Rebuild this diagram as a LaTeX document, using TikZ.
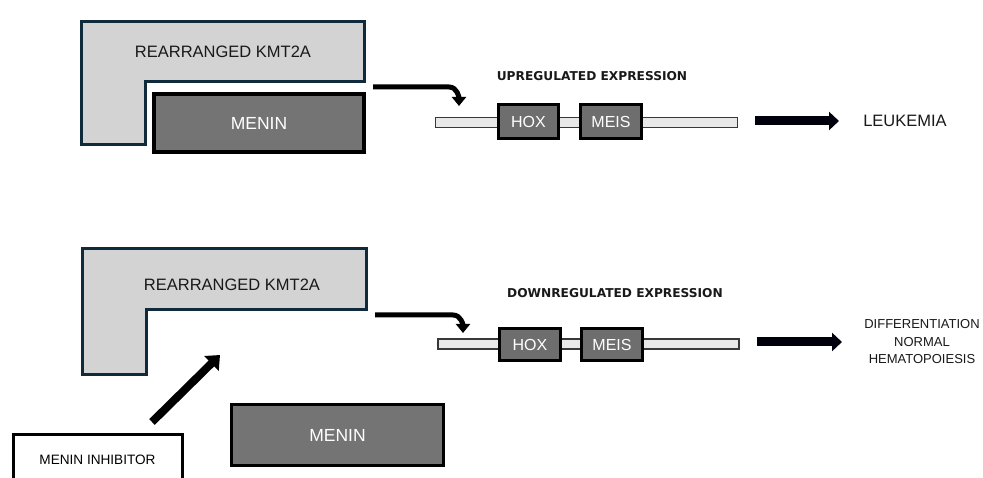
\documentclass[tikz,border=0pt]{standalone}
\usepackage{fontspec}
\setmainfont{Liberation Sans}
\newfontfamily\headfont{DejaVu Sans}
\usetikzlibrary{arrows.meta}

\definecolor{kmtfill}{HTML}{D3D3D3}
\definecolor{kmtline}{HTML}{0F2B3B}
\definecolor{meninfill}{HTML}{747474}
\definecolor{genefill}{HTML}{6E6E6E}
\definecolor{barfill}{HTML}{E8E8E8}
\definecolor{barline}{HTML}{383838}

\tikzset{
  x=1pt, y=-1pt,
  kmt/.style={fill=kmtfill, draw=kmtline, line width=3pt, line join=miter},
  kmtlabel/.style={font=\fontsize{16.5}{19}\selectfont, text=black!90},
  meninbox/.style={draw=black, fill=meninfill, line width=3.5pt, text=white,
    font=\fontsize{17.5}{20}\selectfont, inner sep=0pt},
  genebox/.style={draw=black, fill=genefill, line width=3.5pt, text=white,
    font=\fontsize{16}{19}\selectfont, inner sep=0pt},
  genebar/.style={draw=barline, fill=barfill, line width=1.3pt, inner sep=0pt},
  headline/.style={font=\headfont\bfseries\fontsize{12.2}{14}\selectfont, text=black!90},
  outcome/.style={text=black!90, align=center},
  bendarrow/.style={line width=5pt, line join=round,
    -{Triangle[length=9pt,width=14pt]}},
  fatarrow/.style={line width=9pt, draw=black!95!blue,
    -{Triangle[length=10pt,width=18pt]}},
  inhibarrow/.style={line width=8pt, -{Triangle[length=12pt,width=20pt]}},
  inhibbox/.style={draw=black, fill=white, line width=3pt, inner sep=0pt,
    font=\fontsize{13.6}{16}\selectfont},
}

\begin{document}
\begin{tikzpicture}
\clip (0,0) rectangle (983,478);
\fill[white] (0,0) rectangle (983,478);

% ---------- upper panel: KMT2A bound to menin ----------
\draw[kmt] (81.5,21.5) -- (364.5,21.5) -- (364.5,82) -- (145,82) -- (145,144.5)
  -- (81.5,144.5) -- cycle;
\node[kmtlabel] (kmtA) at (223,52) {REARRANGED KMT2A};
\node[meninbox, minimum width=210pt, minimum height=58pt] (meninA) at (259,123) {MENIN};

\node[genebar, minimum width=302pt, minimum height=10pt] (barA) at (586.5,122.5) {};
\node[genebox, minimum width=60pt, minimum height=34pt] (hoxA) at (528.5,121.5) {HOX};
\node[genebox, minimum width=61pt, minimum height=34pt] (meisA) at (611,121.5) {MEIS};
\node[headline] (upA) at (592,76) {UPREGULATED EXPRESSION};

\coordinate (srcA) at (373,87);
\coordinate (dropA) at (459,106);
\draw[bendarrow] (srcA) -- (449,87) to[out=0,in=90] (dropA);

\node[outcome, font=\fontsize{16.5}{19}\selectfont] (leuk) at (905,121) {LEUKEMIA};
\draw[fatarrow] (barA.east) ++(17,-1.5) coordinate (outA) -- (leuk.west -| 839,0);

% ---------- lower panel: menin displaced by the inhibitor ----------
\draw[kmt] (82.5,248.5) -- (366.5,248.5) -- (366.5,310) -- (146,310) -- (146,374.5)
  -- (82.5,374.5) -- cycle;
\node[kmtlabel] (kmtB) at (232,285) {REARRANGED KMT2A};

\node[genebar, minimum width=301pt, minimum height=10pt] (barB) at (588.5,344) {};
\node[genebox, minimum width=61pt, minimum height=32pt] (hoxB) at (530,344.5) {HOX};
\node[genebox, minimum width=61pt, minimum height=32pt] (meisB) at (612,344.5) {MEIS};
\node[headline] (downB) at (615,293) {DOWNREGULATED EXPRESSION};

\coordinate (srcB) at (375,315);
\coordinate (dropB) at (463,333);
\draw[bendarrow] (srcB) -- (453,315) to[out=0,in=90] (dropB);

\node[outcome, font=\fontsize{13}{17.5}\selectfont] (normal) at (922,342)
  {DIFFERENTIATION\\NORMAL\\HEMATOPOIESIS};
\draw[fatarrow] (barB.east) ++(17,-2) coordinate (outB) -- (842,342);

\node[meninbox, minimum width=212pt, minimum height=61pt] (meninB) at (337.5,435) {MENIN};
\node[inhibbox, minimum width=169pt, minimum height=51pt] (inhib) at (97.5,460) {MENIN INHIBITOR};

\coordinate (inhibTail) at (152,422);
\coordinate (inhibTip) at (220,355);
\draw[inhibarrow] (inhibTail) -- (inhibTip);
\end{tikzpicture}
\end{document}
